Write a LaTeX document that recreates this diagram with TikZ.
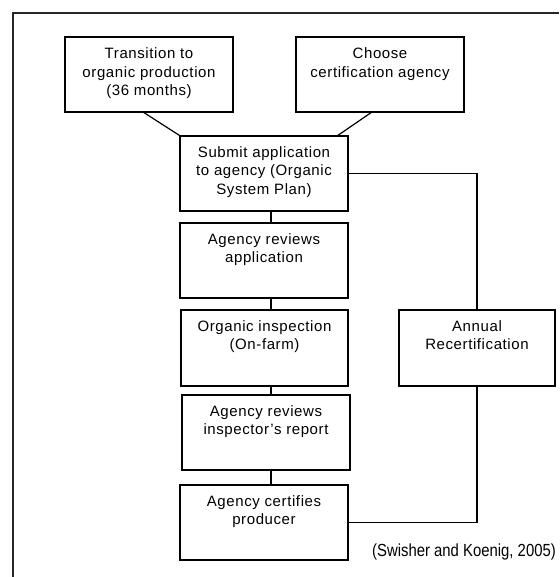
\documentclass[tikz,border=0pt]{standalone}
\usepackage{fontspec}
\setmainfont{Liberation Sans}[LetterSpace=4]
\newfontfamily\citefont{Liberation Sans}[FakeStretch=0.85]
\begin{document}
\begin{tikzpicture}[x=1pt,y=-1pt,
  box/.style={draw, line width=1.3pt, minimum width=168pt, minimum height=75pt, inner sep=0pt},
  boxtext/.style={anchor=north, align=center, inner sep=0pt, font=\fontsize{15}{18.5}\selectfont},
  conn/.style={draw, line width=1.2pt}]
\useasboundingbox (0,0) rectangle (559,577);
% frame
\draw[line width=1.6pt, black!85] (13,577) -- (13,13) -- (559,13);
% boxes
\node[box] (trans) at (149,74.5) {};
\node[box] (choose) at (380,74.5) {};
\node[box] (submit) at (264,173.5) {};
\node[box] (review) at (264,260.5) {};
\node[box, minimum width=167pt, minimum height=76pt] (inspect) at (264.5,348) {};
\node[box] (report) at (266,432.5) {};
\node[box] (certify) at (264,522.5) {};
\node[box, minimum width=156pt, minimum height=76pt] (annual) at (477,348) {};
% texts
\node[boxtext] (t1) at ([yshift=-11.5pt]trans.north) {Transition to\\organic production\\(36 months)};
\node[boxtext] (t2) at ([yshift=-11.5pt]choose.north) {Choose\\certification agency};
\node[boxtext] (t3) at ([yshift=-11pt]submit.north) {Submit application\\to agency (Organic\\System Plan)};
\node[boxtext] (t4) at ([yshift=-11pt]review.north) {Agency reviews\\application};
\node[boxtext] (t5) at ([yshift=-11pt]inspect.north) {Organic inspection\\(On-farm)};
\node[boxtext] (t6) at ([yshift=-11pt]report.north) {Agency reviews\\inspector's report};
\node[boxtext] (t7) at ([yshift=-11pt]certify.north) {Agency certifies\\producer};
\node[boxtext] (t8) at ([yshift=-11pt]annual.north) {Annual\\Recertification};
% connectors
\coordinate (spine) at (271,0);
\coordinate (tr) at (143,112);
\coordinate (ch) at (372,112);
\coordinate (sb) at (337,136);
\draw[conn] (tr) -- (submit.north west);
\draw[conn] (ch) -- (sb);
\draw[conn] (submit.south -| spine) -- (review.north -| spine);
\draw[conn] (review.south -| spine) -- (inspect.north -| spine);
\draw[conn] (inspect.south -| spine) -- (report.north -| spine);
\draw[conn] (report.south -| spine) -- (certify.north -| spine);
\draw[conn] (submit.east) -| (annual.north);
\draw[conn] (certify.east) -| (annual.south);
% citation
\node[anchor=east, inner sep=0pt, font=\citefont\fontsize{17.5}{20}\selectfont] (cite) at (556,552) {(Swisher and Koenig, 2005)};
\end{tikzpicture}
\end{document}
